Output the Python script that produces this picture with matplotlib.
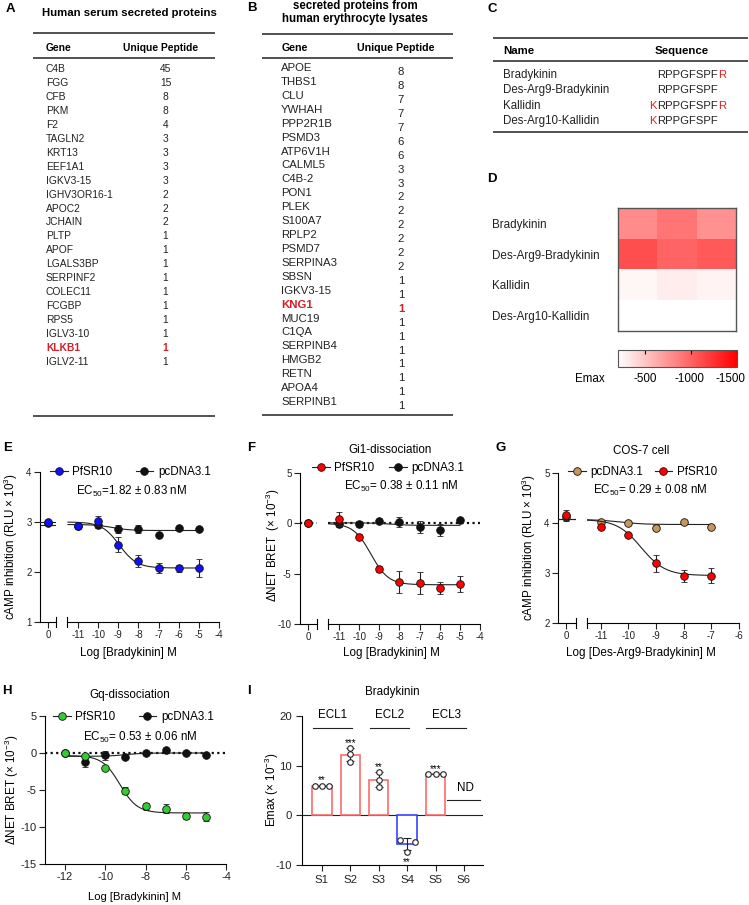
import numpy as np
import matplotlib
matplotlib.use("Agg")
import matplotlib.pyplot as plt
from matplotlib.lines import Line2D
from matplotlib.colors import LinearSegmentedColormap, Normalize
from matplotlib.transforms import ScaledTranslation

plt.rcParams['font.family'] = ['Liberation Sans', 'DejaVu Sans']
plt.rcParams['mathtext.default'] = 'regular'
plt.rcParams['axes.unicode_minus'] = False
plt.rcParams['axes.linewidth'] = 0.8

# ---------------- data ----------------
genes_a = ['C4B', 'FGG', 'CFB', 'PKM', 'F2', 'TAGLN2', 'KRT13', 'EEF1A1', 'IGKV3-15',
           'IGHV3OR16-1', 'APOC2', 'JCHAIN', 'PLTP', 'APOF', 'LGALS3BP', 'SERPINF2',
           'COLEC11', 'FCGBP', 'RPS5', 'IGLV3-10', 'KLKB1', 'IGLV2-11']
peptides_a = [45, 15, 8, 8, 4, 3, 3, 3, 3, 2, 2, 2, 1, 1, 1, 1, 1, 1, 1, 1, 1, 1]

genes_b = ['APOE', 'THBS1', 'CLU', 'YWHAH', 'PPP2R1B', 'PSMD3', 'ATP6V1H', 'CALML5', 'C4B-2',
           'PON1', 'PLEK', 'S100A7', 'RPLP2', 'PSMD7', 'SERPINA3', 'SBSN', 'IGKV3-15', 'KNG1',
           'MUC19', 'C1QA', 'SERPINB4', 'HMGB2', 'RETN', 'APOA4', 'SERPINB1']
peptides_b = [8, 8, 7, 7, 7, 6, 6, 3, 3, 2, 2, 2, 2, 2, 2, 1, 1, 1, 1, 1, 1, 1, 1, 1, 1]
highlight = ['KLKB1', 'KNG1']

pep_names = ['Bradykinin', 'Des-Arg9-Bradykinin', 'Kallidin', 'Des-Arg10-Kallidin']
pep_nterm = ['', '', 'K', 'K']
pep_core = ['RPPGFSPF', 'RPPGFSPF', 'RPPGFSPF', 'RPPGFSPF']
pep_cterm = ['R', '', 'R', '']

emax_d = [[-790, -910, -760],
          [-1100, -990, -1045],
          [-250, -300, -265],
          [-200, -200, -200]]

doses = [0, -11, -10, -9, -8, -7, -6, -5]
e_pfsr10 = [3.0, 2.92, 3.02, 2.55, 2.22, 2.08, 2.08, 2.08]
e_pfsr10_err = [0.05, 0.05, 0.10, 0.15, 0.12, 0.10, 0.07, 0.18]
e_pcdna = [2.98, 2.93, 2.94, 2.87, 2.87, 2.75, 2.89, 2.87]
e_pcdna_err = [0.03, 0.04, 0.05, 0.08, 0.08, 0.03, 0.03, 0.03]

f_pfsr10 = [0.0, 0.4, -1.35, -4.5, -5.8, -5.9, -6.45, -6.05]
f_pfsr10_err = [0.1, 0.7, 0.25, 0.3, 1.1, 1.1, 0.6, 0.8]
f_pcdna = [0.0, -0.1, -0.1, 0.25, 0.15, -0.4, -0.65, 0.3]
f_pcdna_err = [0.1, 0.3, 0.3, 0.1, 0.5, 0.6, 0.6, 0.1]

doses_g = [0, -11, -10, -9, -8, -7]
g_pcdna = [4.12, 4.03, 4.01, 3.91, 4.02, 3.93]
g_pcdna_err = [0.08, 0.03, 0.03, 0.05, 0.03, 0.03]
g_pfsr10 = [4.16, 3.93, 3.76, 3.2, 2.95, 2.95]
g_pfsr10_err = [0.1, 0.04, 0.03, 0.17, 0.12, 0.15]

doses_h = [-12, -11, -10, -9, -8, -7, -6, -5]
h_pfsr10 = [0.0, -0.4, -2.0, -5.1, -7.2, -7.55, -8.5, -8.6]
h_pfsr10_err = [0.2, 0.3, 0.2, 0.5, 0.5, 0.6, 0.4, 0.6]
h_pcdna = [0.0, -1.2, -0.3, -0.6, 0.0, 0.4, 0.05, -0.25]
h_pcdna_err = [0.2, 0.7, 0.6, 0.2, 0.1, 0.2, 0.1, 0.1]

# fit params: top, bottom, logEC50
e_fit_pfsr10 = (3.0, 2.08, -8.95)
e_fit_pcdna = (2.95, 2.83, -9.3)
f_fit_pfsr10 = (0.0, -6.1, -9.42)
f_fit_pcdna = (0.05, -0.2, -8.5)
g_fit_pfsr10 = (4.07, 2.95, -9.54)
g_fit_pcdna = (4.07, 3.97, -10.3)
h_fit_pfsr10 = (-0.35, -8.1, -9.28)
h_fit_pcdna = (-0.45, 0.0, -9.0)

sites = ['S1', 'S2', 'S3', 'S4', 'S5', 'S6']
i_mean = [6.0, 12.2, 7.2, -5.8, 8.3, np.nan]
i_reps = [[6.0, 6.0, 6.0], [13.5, 12.3, 10.8], [8.7, 7.2, 5.7], [-5.0, -5.3, -7.3], [8.3, 8.3, 8.3], []]
i_stars = ['**', '***', '**', '**', '***', '']
ecl_labels = ['ECL1', 'ECL2', 'ECL3']
ecl_start = [0, 2, 4]

# ---------------- layout helpers ----------------
W, H = 749, 905
fig = plt.figure(figsize=(W / 100, H / 100), dpi=100)
RED = '#ff0000'
BLUE = '#1010ff'
GREEN = '#33cc33'
TAN = '#c8965a'
INK = '#222222'
FS = 8.4     # general label size
TFS = 7      # tick labels of the broken axes


def box(x0, y0, x1, y1):
    return [x0 / W, 1 - y1 / H, (x1 - x0) / W, (y1 - y0) / H]


def fp(x, y):
    return (x / W, 1 - y / H)


def table_ax(x0, x1, ytop, ybot, row0, step):
    ax = fig.add_axes(box(x0, ytop, x1, ybot))
    ax.set_xlim(x0, x1)
    ax.set_ylim((ybot - row0) / step, (ytop - row0) / step)
    ax.axis('off')
    return ax


def logistic(x, fit):
    top, bottom, logec = fit
    return bottom + (top - bottom) / (1 + 10 ** (x - logec))


letters = {'A': (10, 9), 'B': (252, 8), 'C': (492, 9), 'D': (492, 179), 'E': (8, 448),
           'F': (251, 448), 'G': (501, 448), 'H': (7, 691), 'I': (249, 691)}
for k, (x, y) in letters.items():
    fig.text(*fp(x, y), k, fontsize=9.5, fontweight='bold', ha='center', va='center')

# ---------------- A ----------------
ta = table_ax(33, 215, 0, 422, 69, 13.95)
ta.text(129, -4.0, 'Human serum secreted proteins', ha='center', va='center', fontsize=8.2, fontweight='bold')
for r in (-2.58, -0.79, 24.87):
    ta.axhline(r, color='#333333', lw=1.2)
ta.text(46, -1.5, 'Gene', va='center', fontsize=7.4, fontweight='bold')
ta.text(123, -1.5, 'Unique Peptide', va='center', fontsize=7.4, fontweight='bold')
for i, (g, n) in enumerate(zip(genes_a, peptides_a)):
    hl = g in highlight
    c = '#d0202a' if hl else INK
    w = 'bold' if hl else 'normal'
    ta.text(46, i, g, va='center', fontsize=7.4, color=c, fontweight=w)
    ta.text(165.5, i, str(n), va='center', ha='center', fontsize=7.4, color=c, fontweight=w)

# ---------------- B ----------------
tb = table_ax(262, 453, 0, 422, 68, 13.92)
tb.text(355, -4.0, 'secreted proteins from\nhuman erythrocyte lysates', ha='center', va='center',
        fontsize=8.3, fontweight='bold', linespacing=1.05)
for r in (-2.44, -0.72, 24.93):
    tb.axhline(r, color='#333333', lw=1.2)
tb.text(282, -1.44, 'Gene', va='center', fontsize=7.7, fontweight='bold')
tb.text(357, -1.44, 'Unique Peptide', va='center', fontsize=7.7, fontweight='bold')
for i, (g, n) in enumerate(zip(genes_b, peptides_b)):
    hl = g in highlight
    c = '#d0202a' if hl else INK
    w = 'bold' if hl else 'normal'
    tb.text(281, i, g, va='center', fontsize=8.2, color=c, fontweight=w)
    tb.text(401, i + 0.3, str(n), va='center', ha='center', fontsize=8.2, color=c, fontweight=w)

# ---------------- C ----------------
tc = table_ax(493, 748, 20, 140, 75, 15.3)
for r in (-2.42, -0.92, 3.73):
    tc.axhline(r, color='#333333', lw=1.2)
tc.text(503, -1.57, 'Name', va='center', fontsize=8.2, fontweight='bold')
tc.text(655, -1.57, 'Sequence', va='center', fontsize=8.2, fontweight='bold')
for i, name in enumerate(pep_names):
    tc.text(503, i, name, va='center', fontsize=8.3, color=INK)
    core = tc.text(657, i, pep_core[i], va='center', fontsize=8.1, color=INK)
    if pep_nterm[i]:
        tc.annotate(pep_nterm[i], xy=(0, 0), xycoords=core, ha='right', va='bottom', fontsize=8.1, color='#e02020')
    if pep_cterm[i]:
        tc.annotate(pep_cterm[i], xy=(1, 0), xycoords=core, ha='left', va='bottom', fontsize=8.1, color='#e02020')

# ---------------- D ----------------
hd = fig.add_axes(box(618, 208, 736, 331))
cmap = LinearSegmentedColormap.from_list('emax', ['#ff0000', '#ffffff'])
norm = Normalize(vmin=-1500, vmax=-200)
im = hd.imshow(emax_d, cmap=cmap, norm=norm, aspect='auto', interpolation='nearest')
hd.set_xticks([])
hd.set_yticks(range(len(pep_names)))
hd.set_yticklabels(pep_names, fontsize=FS, ha='left', color=INK)
hd.tick_params(axis='y', length=0, pad=(618 - 492) * 0.72)
for s in hd.spines.values():
    s.set_color('#555555')
    s.set_linewidth(1)
cax = fig.add_axes(box(618, 350, 737, 367))
cb = fig.colorbar(im, cax=cax, orientation='horizontal')
cb.set_ticks([-500, -1000, -1500])
cb.set_ticklabels(['-500', '-1000', '-1500'])
cax.invert_xaxis()
cax.tick_params(axis='x', top=True, bottom=False, direction='in', length=3, labelsize=FS, pad=4)
cb.outline.set_edgecolor('#555555')
lbls = cax.get_xticklabels()
lbls[1].set_transform(lbls[1].get_transform() + ScaledTranslation(-0.02, 0, fig.dpi_scale_trans))
lbls[2].set_transform(lbls[2].get_transform() + ScaledTranslation(-0.065, 0, fig.dpi_scale_trans))
fig.text(*fp(590, 379), 'Emax', ha='center', va='center', fontsize=FS)


# ---------------- dose-response panels ----------------
def dose_axes(ytop, ybot, segL, segR, xlimL, xlimR, ylim, yticks, xticks):
    axL = fig.add_axes(box(segL[0], ytop, segL[1], ybot))
    axR = fig.add_axes(box(segR[0], ytop, segR[1], ybot))
    for ax in (axL, axR):
        ax.set_ylim(*ylim)
        ax.spines[['top', 'right']].set_visible(False)
        ax.patch.set_alpha(0)
        ax.tick_params(labelsize=TFS, length=4, width=0.8, pad=2, colors=INK)
    axL.set_xlim(*xlimL)
    axL.set_xticks([0])
    axL.set_yticks(yticks)
    axR.set_xlim(*xlimR)
    axR.set_xticks(xticks)
    axR.spines['left'].set_visible(False)
    axR.set_yticks([])
    axL.plot([1, 1], [-0.035, 0.035], transform=axL.transAxes, color='k', lw=0.8, clip_on=False)
    axR.plot([0, 0], [-0.035, 0.035], transform=axR.transAxes, color='k', lw=0.8, clip_on=False)
    return axL, axR


def series(axes, x, y, err, color, fit, xfit, z, left_ax=None):
    for ax in axes:
        ax.errorbar(x, y, yerr=err, fmt='o', ms=5.5, mfc=color, mec='#111111', mew=0.6,
                    ecolor=INK, elinewidth=0.8, capsize=2.3, capthick=0.8, zorder=z)
    axes[-1].plot(xfit, logistic(xfit, fit), color=INK, lw=0.8, zorder=z - 0.5)
    if left_ax is not None:
        left_ax.axhline(fit[0], color=INK, lw=0.8, zorder=z - 0.5)


def legend_at(x, y, colors, labels, spacing):
    hs = [Line2D([0], [0], color=INK, lw=0.8, marker='o', ms=5.5, mfc=c, mec='#111111', mew=0.6)
          for c in colors]
    fig.legend(hs, labels, ncol=2, loc='center left', bbox_to_anchor=fp(x, y), frameon=False,
               fontsize=FS, handlelength=1.5, handletextpad=0.4, columnspacing=spacing,
               borderpad=0, borderaxespad=0)


# E
eL, eR = dose_axes(472, 622, (40, 56), (67, 219), (-0.4, 0.4), (-11.55, -4), (1, 4), [1, 2, 3, 4],
                   list(range(-11, -3)))
xf = np.linspace(-11.5, -5, 200)
series((eL, eR), doses, e_pcdna, e_pcdna_err, '#111111', e_fit_pcdna, xf, 3, eL)
series((eL, eR), doses, e_pfsr10, e_pfsr10_err, BLUE, e_fit_pfsr10, xf, 5, eL)
legend_at(50, 472, [BLUE, '#111111'], ['PfSR10', 'pcDNA3.1'], 2.0)
fig.text(*fp(76, 491), 'EC$_{50}$=1.82 ± 0.83 nM', va='center', fontsize=FS)
fig.text(*fp(128, 653), 'Log [Bradykinin] M', ha='center', va='center', fontsize=FS)
fig.text(*fp(11, 547), 'cAMP inhibition (RLU × 10$^3$)', rotation=90, ha='center', va='center', fontsize=FS)

# F
fL, fR = dose_axes(473, 624, (300, 317), (328, 480), (-0.4, 0.45), (-11.55, -4), (-10, 5),
                   [-10, -5, 0, 5], list(range(-11, -3)))
for ax in (fL, fR):
    ax.axhline(0, color='#111111', lw=1.6, ls=(0, (1, 1.5)), zorder=2)
series((fL, fR), doses, f_pcdna, f_pcdna_err, '#111111', f_fit_pcdna, xf, 3)
series((fL, fR), doses, f_pfsr10, f_pfsr10_err, RED, f_fit_pfsr10, xf, 5)
legend_at(312, 468, [RED, '#111111'], ['PfSR10', 'pcDNA3.1'], 1.3)
fig.text(*fp(390, 450), 'Gi1-dissociation', ha='center', va='center', fontsize=FS)
fig.text(*fp(344, 486), 'EC$_{50}$= 0.38 ± 0.11 nM', va='center', fontsize=FS)
fig.text(*fp(391, 653), 'Log [Bradykinin] M', ha='center', va='center', fontsize=FS)
fig.text(*fp(273, 545), 'ΔNET BRET  (× 10$^{-3}$)', rotation=90, ha='center', va='center', fontsize=FS)

# G
gL, gR = dose_axes(473, 623, (558, 576), (587, 739), (-0.29, 0.36), (-11.5, -6), (2, 5),
                   [2, 3, 4, 5], list(range(-11, -5)))
xg = np.linspace(-11.5, -7, 200)
series((gL, gR), doses_g, g_pcdna, g_pcdna_err, TAN, g_fit_pcdna, xg, 3, gL)
series((gL, gR), doses_g, g_pfsr10, g_pfsr10_err, RED, g_fit_pfsr10, xg, 5, gL)
legend_at(568, 472, [TAN, RED], ['pcDNA3.1', 'PfSR10'], 1.0)
fig.text(*fp(641, 451), 'COS-7 cell', ha='center', va='center', fontsize=FS)
fig.text(*fp(593, 490), 'EC$_{50}$= 0.29 ± 0.08 nM', va='center', fontsize=FS)
fig.text(*fp(641, 653), 'Log [Des-Arg9-Bradykinin] M', ha='center', va='center', fontsize=FS)
fig.text(*fp(529, 548), 'cAMP inhibition (RLU × 10$^3$)', rotation=90, ha='center', va='center', fontsize=FS)

# H
ah = fig.add_axes(box(45, 716, 226, 864))
ah.set_xlim(-13, -4)
ah.set_ylim(-15, 5)
ah.set_xticks([-12, -10, -8, -6, -4])
ah.set_yticks([-15, -10, -5, 0, 5])
ah.spines[['top', 'right']].set_visible(False)
ah.tick_params(labelsize=8, length=4, width=0.8, pad=2, colors=INK)
ah.axhline(0, color='#111111', lw=1.6, ls=(0, (1, 1.5)), zorder=2)
xh = np.linspace(-12, -5, 200)
series((ah,), doses_h, h_pcdna, h_pcdna_err, '#111111', h_fit_pcdna, xh, 3)
series((ah,), doses_h, h_pfsr10, h_pfsr10_err, GREEN, h_fit_pfsr10, xh, 5)
legend_at(53, 717, [GREEN, '#111111'], ['PfSR10', 'pcDNA3.1'], 2.0)
fig.text(*fp(130, 695), 'Gq-dissociation', ha='center', va='center', fontsize=FS)
fig.text(*fp(83, 737), 'EC$_{50}$= 0.53 ± 0.06 nM', va='center', fontsize=FS)
fig.text(*fp(135, 897), 'Log [Bradykinin] M', ha='center', va='center', fontsize=8.1)
fig.text(*fp(12, 790), 'ΔNET BRET (× 10$^{-3}$)', rotation=90, ha='center', va='center', fontsize=FS)

# I
ai = fig.add_axes(box(302, 716, 483, 865))
ai.set_xlim(-0.7, 5.67)
ai.set_ylim(-10, 20)
ai.set_yticks([-10, 0, 10, 20])
ai.set_xticks(range(len(sites)))
ai.set_xticklabels(sites)
ai.spines[['top', 'right']].set_visible(False)
ai.tick_params(labelsize=8.2, length=4, width=0.8, pad=3, colors=INK)
ai.axhline(0, color=INK, lw=0.8, zorder=2)
offsets = [[-0.26, 0, 0.26], [0, 0, 0], [0, 0, 0], [-0.26, 0.26, 0], [-0.26, 0, 0.26], []]
for k in range(len(sites)):
    if np.isnan(i_mean[k]):
        continue
    ec = '#ff6b6b' if i_mean[k] > 0 else '#3344ff'
    ai.bar(k, i_mean[k], width=0.68, facecolor='white', edgecolor=ec, lw=1.2, zorder=3)
    reps = np.array(i_reps[k])
    ai.errorbar(k, i_mean[k], yerr=reps.std(ddof=1), fmt='none', ecolor=INK, elinewidth=0.8,
                capsize=3, capthick=0.8, zorder=4)
    ai.scatter(k + np.array(offsets[k]), reps, s=16, facecolor='white', edgecolor=INK, lw=0.8, zorder=5)
    ys = reps.max() + 1.0 if i_mean[k] > 0 else reps.min() - 2.2
    ai.text(k, ys, i_stars[k], ha='center', va='center', fontsize=7)
for lab, s0 in zip(ecl_labels, ecl_start):
    c = s0 + 0.37
    ai.plot([c - 0.69, c + 0.69], [17.5, 17.5], color=INK, lw=0.8, clip_on=False)
    ai.text(c, 20.2, lab, ha='center', va='center', fontsize=FS)
ai.text(5.05, 5.5, 'ND', ha='center', va='center', fontsize=FS)
ai.plot([4.42, 5.58], [3, 3], color=INK, lw=0.8, clip_on=False)
fig.text(*fp(392, 692), 'Bradykinin', ha='center', va='center', fontsize=FS)
fig.text(*fp(272, 790), 'Emax (× 10$^{-3}$)', rotation=90, ha='center', va='center', fontsize=FS)

fig.savefig('out.png', dpi=100)
